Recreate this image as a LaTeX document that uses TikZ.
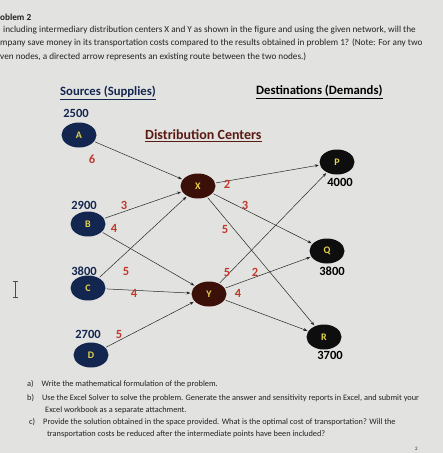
\documentclass[tikz,border=0pt]{standalone}
\usepackage{fontspec}
\setmainfont{Carlito}
\usetikzlibrary{arrows.meta,shapes.geometric}
\definecolor{bgc}{HTML}{E2E2E0}
\definecolor{srcc}{HTML}{13264F}
\definecolor{dcc}{HTML}{3A1008}
\definecolor{dstc}{HTML}{0E0E0E}
\definecolor{yel}{HTML}{E6D64A}
\definecolor{costc}{HTML}{C0392B}
\definecolor{headred}{HTML}{5A1A12}
\definecolor{txt}{HTML}{222222}
\begin{document}
\begin{tikzpicture}[x=1pt,y=-1pt,
  nd/.style={ellipse,minimum width=35pt,minimum height=25pt,inner sep=0pt,font=\fontsize{10}{11}\selectfont\bfseries,text=yel},
  srcnode/.style={nd,fill=srcc},
  dcnode/.style={nd,fill=dcc},
  dstnode/.style={nd,fill=dstc},
  cost/.style={font=\fontsize{12.5}{14}\selectfont\bfseries,text=costc,inner sep=0pt},
  supply/.style={font=\fontsize{12.5}{14}\selectfont\bfseries,text=srcc,inner sep=0pt},
  demand/.style={font=\fontsize{12.5}{14}\selectfont\bfseries,text=black,inner sep=0pt},
  head/.style={font=\fontsize{12.7}{14}\selectfont\bfseries,inner sep=0pt,anchor=west},
  body/.style={font=\fontsize{9.2}{11}\selectfont,text=txt,inner sep=0pt,anchor=west},
  small/.style={font=\fontsize{8.3}{10}\selectfont,text=txt,inner sep=0pt,anchor=west},
  arr/.style={-{Stealth[length=4pt,width=3pt]},line width=0.5pt,black!85,shorten >=1pt,shorten <=1pt}]
\fill[bgc] (0,0) rectangle (443,453);
\useasboundingbox (0,0) rectangle (443,453);

% top text
\node[body,font=\fontsize{9.2}{11}\selectfont\bfseries] (t0) at (0,17) {oblem 2};
\node[body] (t1) at (3,30) {including intermediary distribution centers X and Y as shown in the figure and using the given network, will the};
\node[body] (t2) at (0,43) {mpany save money in its transportation costs compared to the results obtained in problem 1? (Note: For any two};
\node[body] (t3) at (0,57) {ven nodes, a directed arrow represents an existing route between the two nodes.)};

% headings
\node[head,text=srcc] (hs) at (60,93) {\underline{Sources (Supplies)}};
\node[head,text=black] (hd) at (256,92) {\underline{Destinations (Demands)}};
\node[head,text=headred,font=\fontsize{14}{16}\selectfont\bfseries] (hc) at (145,136) {\underline{Distribution Centers}};

% nodes
\node[srcnode] (A) at (79,135) {A};
\node[srcnode] (B) at (88,224) {B};
\node[srcnode] (C) at (88,288) {C};
\node[srcnode] (D) at (91,355) {D};
\node[dcnode] (X) at (198,186) {X};
\node[dcnode] (Y) at (209,294) {Y};
\node[dstnode] (P) at (337,162) {P};
\node[dstnode] (Q) at (327,251) {Q};
\node[dstnode] (R) at (324,337) {R};

% supplies / demands
\node[supply] (sA) at (76,113) {2500};
\node[supply] (sB) at (84,205) {2900};
\node[supply] (sC) at (84,271) {3800};
\node[supply] (sD) at (88,334) {2700};
\node[demand] (dP) at (340,182) {4000};
\node[demand] (dQ) at (332,271) {3800};
\node[demand] (dR) at (330,355) {3700};

% connectors
\draw[arr] (A) -- (X);
\draw[arr] (B) -- (X);
\draw[arr] (C) -- (X);
\draw[arr] (B) -- (Y);
\draw[arr] (C) -- (Y);
\draw[arr] (D) -- (Y);
\draw[arr] (X) -- (P);
\draw[arr] (X) -- (Q);
\draw[arr] (X) -- (R);
\draw[arr] (Y) -- (P);
\draw[arr] (Y) -- (Q);
\draw[arr] (Y) -- (R);

% costs
\node[cost] (c1) at (92,159) {6};
\node[cost] (c2) at (124,205) {3};
\node[cost] (c3) at (114,228) {4};
\node[cost] (c4) at (126,271) {5};
\node[cost] (c5) at (134,293) {4};
\node[cost] (c6) at (119,334) {5};
\node[cost] (c7) at (227,184) {2};
\node[cost] (c8) at (245,205) {3};
\node[cost] (c9) at (225,229) {5};
\node[cost] (c10) at (227,272) {5};
\node[cost] (c11) at (255,272) {2};
\node[cost] (c12) at (238,293) {4};

% cursor
\draw[line width=0.6pt,black!70] (15,281) -- (15,297) (12.5,281) -- (17.5,281) (12.5,297) -- (17.5,297);

% bottom text
\node[small] (ba) at (27,384) {a)\hspace{8pt}Write the mathematical formulation of the problem.};
\node[small] (bb) at (27,398) {b)\hspace{8pt}Use the Excel Solver to solve the problem. Generate the answer and sensitivity reports in Excel, and submit your};
\node[small] (bb2) at (45,410) {Excel workbook as a separate attachment.};
\node[small] (bc) at (29,422) {c)\hspace{8pt}Provide the solution obtained in the space provided. What is the optimal cost of transportation? Will the};
\node[small] (bc2) at (47,434) {transportation costs be reduced after the intermediate points have been included?};
\node[small,font=\fontsize{5}{6}\selectfont] (pg) at (415,449) {2};
\end{tikzpicture}
\end{document}
